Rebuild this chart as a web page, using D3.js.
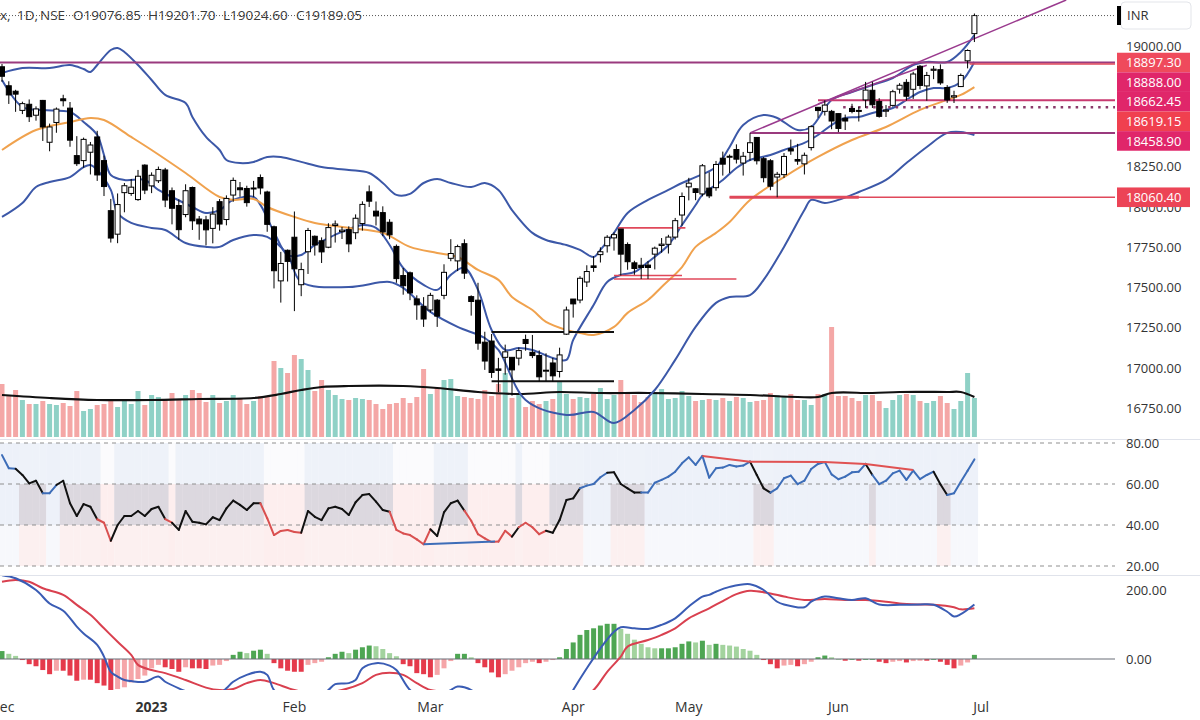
<!DOCTYPE html>
<html><head><meta charset="utf-8">
<script src="https://cdn.jsdelivr.net/npm/d3@7"></script>
<style>body{margin:0;background:#fff}svg{display:block}</style>
</head><body><svg id="c" width="1200" height="720"></svg>
<script>
// ---------- DATA ----------
const open = [18871,18753,18719,18600,18638,18570,18662,18402,18525,18672,
18614,18319,18288,18340,18435,18288,17977,17831,18089,18084,
18046,18260,18131,18163,18230,18101,18009,17953,18121,17925,
17920,17867,18033,17922,18074,18119,18115,18118,18183,18093,
17877,17541,17731,17812,17517,17722,17818,17790,17750,17885,
17847,17859,17840,17897,18094,17974,17965,17905,17755,17574,
17591,17429,17383,17360,17421,17451,17681,17665,17772,17443,
17421,17160,17167,16994,17066,17066,17061,17177,17097,17077,
16984,17031,16978,17210,17428,17422,17534,17634,17704,17759,
17808,17863,17767,17653,17638,17639,17707,17761,17768,17813,
17950,18125,18113,18081,18117,18120,18303,18313,18357,18273,
18339,18432,18300,18287,18186,18201,18362,18295,18268,18369,
18619.15,18594,18594,18580,18551,18612,18600,18665,18725,18655,
18595,18631,18732,18774,18731,18874,18752,18849,18853,18742,
18683,18748,18908,19076.85];
const high = [18888,18781,18728,18654,18668,18625,18665,18518,18618,18697,
18652,18440,18431,18404,18473,18319,18050,18084,18149,18174,
18230,18265,18215,18251,18243,18121,18047,18141,18127,17944,
17945,17999,18049,18072,18183,18155,18132,18162,18202,18101,
17884,17721,17736,17972,17654,17870,17823,17811,17899,17916,
17876,17880,17954,18035,18134,18034,18004,17924,17767,17621,
17599,17451,17440,17467,17428,17644,17800,17766,17799,17451,
17529,17225,17211,17063,17145,17066,17127,17207,17205,17109,
17091,17062,17126,17381,17428,17570,17638,17694,17749,17825,
17842,17863,17780,17666,17684,17664,17754,17807,17827,17932,
18090,18181,18117,18267,18216,18286,18344,18326,18389,18342,
18458.9,18432,18310,18297,18218,18335,18419,18392,18338,18508,
18620,18662.45,18603,18581,18574,18641,18622,18777,18778,18676,
18633,18728,18769,18794,18840,18882,18839,18876,18886,18757,
18722,18829,18979,19201.7];
const low = [18778,18640,18591,18577,18528,18536,18410,18346,18461,18625,
18374,18255,18244,18202,18162,18068,17779,17775,17967,18069,
18038,18080,18086,18149,17999,17892,17796,17936,17857,17796,
17761,17774,17853,17886,18032,18063,18002,18063,18078,17846,
17494,17406,17537,17353,17446,17584,17698,17652,17744,17779,
17801,17719,17800,17853,18000,17885,17819,17800,17529,17455,
17421,17299,17255,17345,17255,17427,17663,17602,17553,17325,
17113,16988,16938,16850,16958,16828,17016,17107,17061,16917,
16919,16914,16941,17205,17313,17402,17503,17597,17655,17717,
17729,17574,17610,17579,17553,17553,17612,17716,17711,17798,
17884,18041,18042,18066,18055,18101,18195,18211,18270,18195,
18287,18264,18153,18104,18060.4,18180,18324,18262,18202,18351,
18554,18568,18483,18465,18478,18582,18531,18615,18615,18555,
18559,18623,18704,18660,18671,18731,18660,18794,18759,18647,
18646,18745,18861,19024.6];
const close = [18812,18696,18701,18642,18561,18609,18497,18497,18608,18660,
18415,18269,18420,18385,18199,18127,17807,18015,18132,18123,
18191,18105,18197,18233,18043,17992,17859,18101,17914,17895,
17858,17956,17894,18053,18165,18107,18027,18118,18118,17892,
17604,17649,17662,17616,17611,17854,17764,17721,17872,17894,
17856,17771,17930,18016,18036,17944,17845,17827,17555,17511,
17466,17392,17304,17451,17322,17594,17711,17754,17589,17413,
17154,17043,16972,16985,17100,16988,17108,17152,17077,16945,
16986,16951,17081,17360,17398,17557,17599,17624,17722,17812,
17828,17707,17660,17618,17624,17624,17744,17769,17813,17915,
18065,18148,18090,18256,18069,18264,18266,18315,18297,18315,
18399,18287,18182,18129,18203,18314,18348,18285,18321,18499,
18599,18633,18534,18488,18534,18593,18599,18726,18635,18563,
18602,18716,18756,18688,18826,18755,18817,18856,18771,18665,
18691,18817,18972,19189.05];
// volume, tens of millions of shares
const volume = [53,42,47,37,33,33,36,33,32,34,31,46,26,28,32,33,37,30,36,33,
46,32,42,40,38,44,38,42,47,44,35,42,34,36,42,38,33,
36,41,40,76,69,64,82,78,67,46,57,47,42,38,37,39,38,37,33,28,
33,34,39,34,40,68,43,49,57,58,41,40,39,38,47,41,53,64,39,43,
30,36,33,36,38,55,43,38,40,39,43,49,38,42,57,44,42,35,40,45,
48,38,39,46,41,36,37,38,37,39,36,40,39,35,36,37,44,42,41,43,
37,37,32,43,43,110,41,41,39,36,42,42,36,29,37,42,43,42,36,34,
36,41,34,28,36,64,39];
const volumeMA = [[0,42],[7,39],[14,37],[22,37],[29,38],[37,39],[41,43],[44,47],[47,50],[51,51],[59,51],[64,49],[70,45],[76,43],[82,45],[88,44],[95,44],[103,43],[110,42],[117,40],[120,40],[122,44],[128,44],[132,45],[139,45],[141,45],[143,40]];
// overlays [dayIndex, price]
const bbUpper = [[0,18832],[3,18863],[7,18863],[10,18882],[12,18857],[13,18839],[14,18882],[16,18975],[17,18988],[18,18963],[20,18882],[22,18789],[24,18696],[27,18646],[28,18559],[30,18435],[32,18354],[33,18292],[35,18273],[37,18280],[39,18311],[41,18311],[44,18280],[47,18248],[51,18230],[54,18211],[56,18149],[58,18075],[60,18081],[62,18149],[64,18174],[66,18149],[69,18124],[71,18149],[73,18106],[75,17981],[78,17839],[80,17795],[83,17764],[85,17733],[87,17689],[88,17733],[90,17839],[92,17963],[95,18044],[98,18106],[100,18149],[102,18186],[105,18248],[107,18373],[109,18509],[112,18571],[114,18553],[117,18478],[119,18497],[122,18665],[125,18714],[128,18758],[131,18801],[134,18882],[136,18901],[139,18901],[141,18963],[143,19068]];
const bbLower = [[0,17938],[3,18025],[5,18124],[7,18155],[10,18186],[12,18248],[13,18261],[14,18230],[16,18106],[17,17963],[19,17901],[22,17870],[24,17857],[27,17776],[30,17752],[32,17752],[34,17795],[37,17826],[39,17814],[42,17702],[44,17534],[51,17503],[57,17534],[59,17497],[63,17348],[67,17255],[71,17186],[73,17112],[77,16801],[83,16708],[87,16727],[90,16658],[93,16739],[96,16863],[99,17050],[102,17255],[105,17404],[107,17441],[110,17453],[112,17547],[115,17752],[118,17981],[119,18044],[121,18025],[123,18044],[126,18093],[130,18168],[133,18273],[136,18373],[139,18460],[141,18466],[143,18447]];
const fastMA = [[0,18789],[3,18621],[6,18602],[10,18590],[12,18528],[14,18447],[15,18323],[16,18199],[18,18168],[21,18168],[23,18106],[25,18062],[28,18000],[30,17963],[32,17981],[34,18044],[37,18062],[38,18013],[40,17845],[42,17702],[44,17702],[46,17764],[48,17807],[50,17845],[53,17888],[55,17870],[57,17764],[59,17621],[62,17516],[64,17485],[66,17578],[68,17621],[70,17485],[72,17236],[74,17112],[76,17124],[78,17112],[81,17062],[83,17050],[84,17174],[87,17391],[89,17534],[91,17578],[93,17596],[95,17658],[98,17764],[100,17888],[102,18012],[103,18075],[106,18168],[108,18242],[110,18292],[113,18323],[115,18354],[118,18398],[120,18447],[122,18509],[124,18553],[126,18559],[128,18584],[131,18615],[133,18665],[135,18714],[137,18739],[139,18739],[141,18776],[143,18901]];
const ema = [[0,18354],[5,18478],[10,18528],[13,18553],[15,18540],[19,18435],[22,18354],[27,18211],[32,18062],[34,18044],[37,18050],[39,18000],[43,17938],[46,17901],[51,17870],[56,17839],[60,17752],[64,17714],[67,17689],[70,17609],[73,17547],[75,17441],[78,17360],[80,17286],[83,17236],[85,17217],[87,17205],[90,17255],[92,17342],[95,17422],[97,17503],[100,17627],[102,17752],[105,17839],[107,17907],[110,18044],[115,18186],[120,18311],[125,18416],[130,18497],[135,18603],[139,18665],[141,18696],[143,18745]];
// horizontal levels: price, from day, to day
const levelPrice = [18897.3, 18888, 18662.45, 18619.15, 18458.9, 18060.4, 18060.4, 17870, 17574, 17553, 17224, 16917];
const levelFrom  = [-2, 142.3, 120, 123.7, 110, 107, 107, 90.6, 90, 90, 72, 72];
const levelTo    = [164, 164, 164, 164, 164, 164, 126, 100.5, 100, 108, 90, 90];
const levelKind  = ["purple","red","magenta","dotted","purple","red","redThick","red","red","red","black","black"];
const trendA = [[110,18460],[156.5,19286]];
const trendB = [[120,18640],[136,18880]];
// labels on price axis
const tagPrice = [18897.30, 18888.00, 18662.45, 18619.15, 18458.90, 18060.40];
const tagColor = ["#ef4a5c","#e0266a","#e0266a","#f0404f","#e0266a","#ec4456"];
const priceTicks = [16750,17000,17250,17500,17750,18000,18250,19000];
// RSI
const rsi = [74.1,67.7,67.4,64.4,60.3,61.6,55.5,55.5,59.5,61.6,
50.6,44.4,50.2,48.9,42.8,41.1,32.3,40.0,44.4,44.4,
46.8,44.4,47.8,48.9,42.9,41.1,37.6,46.8,41.6,41.1,
40.3,43.8,42.4,48.1,51.9,49.8,47.3,50.6,50.6,43.3,
35.1,37.1,37.6,36.6,36.2,46.8,44.0,42.4,48.1,48.9,
47.8,44.9,51.1,54.6,55.1,51.4,47.3,46.5,37.6,35.9,
35.1,33.0,30.6,37.9,34.6,46.2,50.6,51.9,47.0,42.1,
35.5,33.5,31.7,31.9,37.2,34.3,38.9,41.1,38.9,35.5,
37.2,36.2,42.4,52.2,53.0,57.9,59.2,60.0,63.3,65.5,
65.7,60.0,57.9,55.8,55.8,55.8,60.6,62.0,63.6,66.0,
70.1,73.0,69.3,73.7,63.1,67.7,68.0,69.3,68.5,69.0,
70.9,64.4,57.9,55.8,57.9,62.8,64.1,59.9,61.6,67.3,
69.8,70.7,64.7,62.3,63.6,65.7,66.0,69.8,64.4,59.9,
61.6,65.2,66.5,62.0,66.5,62.4,64.4,66.0,59.9,54.6,
55.5,61.1,66.5,72.0];
const rsiState = ("bbb"+"nnnn"+"bb"+"nnnnnn"+"rr"+"nnnnnnnn"+"r"+"nnnnnnnnnnnnn"+"rrrrrr"+"nnnnnnnnnnnnn"+"rrrrrr"+"nnnnn"+"rrrrrrr"+"n"+"rrrr"+"nnnnn"+"bbbb"+"nnnnn"+"bbbbbbbbbbbbbbbb"+"nnn"+"bbbbbbbbbbbbbb"+"n"+"bbbbbbbbb"+"nn"+"bbbb").split("");
const rsiBearDiv = [[103,73.7],[110,70.9],[121,70.7],[127,69.8],[134,66.8]];
const rsiBullDiv = [[62,30.6],[72.5,31.9]];
const rsiTicks = [80,60,40,20];
// MACD
const macdLine = [[0,243],[2,234],[5,200],[7,161],[9,140],[11,94],[12,74],[14,41],[15,7],[16,-37],[17,-51],[18,-61],[19,-64],[21,-66],[23,-51],[24,-66],[26,-85],[28,-100],[30,-108],[32,-100],[33,-85],[34,-66],[36,-46],[38,-37],[39,-46],[40,-90],[42,-120],[44,-135],[46,-125],[48,-90],[49,-73],[51,-70],[52,-61],[53,-27],[55,-12],[57,-19],[58,-32],[60,-90],[62,-115],[64,-110],[66,-90],[67,-80],[69,-90],[71,-130],[74,-175],[77,-200],[80,-195],[82,-160],[84,-90],[86,-27],[88,31],[90,79],[91,92],[93,89],[95,87],[97,99],[99,118],[101,152],[103,181],[104,186],[105,195],[107,209],[110,217],[112,200],[114,166],[115,158],[118,150],[119,166],[121,181],[123,176],[125,171],[127,176],[129,158],[132,157],[135,158],[137,157],[139,137],[140,123],[141,130],[143,158]];
const signalLine = [[0,224],[2,229],[4,224],[6,205],[9,186],[11,157],[13,128],[15,89],[17,50],[19,12],[20,-17],[22,-32],[24,-41],[27,-61],[30,-83],[32,-90],[34,-87],[36,-70],[38,-61],[40,-70],[43,-90],[46,-100],[50,-90],[53,-70],[55,-46],[57,-40],[59,-46],[61,-70],[63,-90],[66,-95],[70,-105],[75,-130],[80,-150],[84,-130],[87,-90],[89,-37],[91,7],[92,36],[95,55],[97,70],[99,89],[101,118],[104,147],[106,168],[108,188],[110,198],[113,190],[115,181],[118,171],[121,174],[124,171],[127,171],[130,166],[132,161],[135,158],[137,157],[140,150],[141,144],[143,147]];
const hist = [23,15,9,-3,-15,-21,-32,-44,-34,-34,-48,-63,-60,-60,-70,-77,-92,-87,-82,-68,
-58,-48,-27,-17,-24,-29,-37,-24,-27,-27,-29,-19,-17,-6,12,21,17,24,27,15,
-12,-27,-34,-37,-37,-17,-12,-8,5,15,21,17,27,34,39,37,29,17,8,-15,
-21,-41,-44,-53,-46,-27,-6,15,15,5,-12,-24,-39,-53,-44,-34,-24,-12,-8,-12,
-8,-3,5,29,48,70,84,89,97,102,102,87,73,56,44,34,31,31,31,34,
44,51,48,53,41,44,41,39,36,29,24,12,-3,-15,-27,-19,-17,-21,-15,-8,
5,10,5,0,-5,0,-5,0,0,-8,-12,-8,-6,-10,-6,-5,-5,0,-8,-17,
-27,-19,-10,12];
const macdTicks = [0,200];
const monthIdx = [0,22,43,63,84,101,123,144];
const monthLabel = ["Dec","2023","Feb","Mar","Apr","May","Jun","Jul"];
const header = ["x,","1D,","NSE","O19076.85","H19201.70","L19024.60","C19189.05"];

// ---------- CHART ----------
const svg = d3.select("#c");
const FONT = "'Open Sans', 'DejaVu Sans', sans-serif";
const N = close.length;
const RIGHT = 1115;
const x = d3.scaleLinear().domain([0, N - 1]).range([2, 974.4]);
const y = d3.scaleLinear().domain([16750, 19000]).range([408.2, 46]);
const yVol = d3.scaleLinear().domain([0, 167]).range([437, 270]);
const yR = d3.scaleLinear().domain([20, 80]).range([566, 443]);
const yM = d3.scaleLinear().domain([0, 200]).range([659, 590]);
const dx = x(1) - x(0);

const defs = svg.append("defs");
function clip(id, yy, h) { defs.append("clipPath").attr("id", id).append("rect").attr("x", 0).attr("y", yy).attr("width", RIGHT).attr("height", h); }
clip("cp", 0, 438); clip("cr", 441, 134); clip("cm", 576, 114);

svg.append("rect").attr("width", 1200).attr("height", 720).attr("fill", "#fff");

// ---- price pane ----
const gp = svg.append("g").attr("clip-path", "url(#cp)");
gp.selectAll("rect.vol").data(volume).join("rect")
  .attr("x", (d, i) => x(i) - 2.5).attr("width", 5)
  .attr("y", d => yVol(d)).attr("height", d => yVol(0) - yVol(d))
  .attr("fill", (d, i) => close[i] >= open[i] ? "#8fd1c6" : "#f4a7a6");
gp.append("path").datum(volumeMA)
  .attr("d", d3.line().x(d => x(d[0])).y(d => yVol(d[1])).curve(d3.curveCatmullRom.alpha(0.5)))
  .attr("fill", "none").attr("stroke", "#111").attr("stroke-width", 2.2);

const lineP = d3.line().x(d => x(d[0])).y(d => y(d[1])).curve(d3.curveCatmullRom.alpha(0.5));
[[bbUpper, "#3c58a8"], [bbLower, "#3c58a8"], [fastMA, "#3c58a8"], [ema, "#f0a24e"]].forEach(([data, c]) => {
  gp.append("path").datum(data).attr("d", lineP).attr("fill", "none").attr("stroke", c).attr("stroke-width", 2);
});

const levelStyle = {
  purple: {c: "#9a3a7e", w: 2}, red: {c: "#e0485a", w: 1.6}, redThick: {c: "#e0485a", w: 3},
  magenta: {c: "#c83a70", w: 2}, dotted: {c: "#8a3a6a", w: 2.5, dash: "2.5,5"}, black: {c: "#111", w: 2}
};
levelPrice.forEach((p, i) => {
  const s = levelStyle[levelKind[i]];
  gp.append("line").attr("x1", x(levelFrom[i])).attr("x2", Math.min(x(levelTo[i]), RIGHT))
    .attr("y1", y(p)).attr("y2", y(p)).attr("stroke", s.c).attr("stroke-width", s.w)
    .attr("stroke-dasharray", s.dash || null);
});
[trendA, trendB].forEach(t => {
  gp.append("path").datum(t).attr("d", d3.line().x(d => x(d[0])).y(d => y(d[1])))
    .attr("stroke", "#9a3a8e").attr("stroke-width", 1.5).attr("fill", "none");
});
// last price dotted line
svg.append("line").attr("x1", 0).attr("x2", RIGHT).attr("y1", y(close[N - 1])).attr("y2", y(close[N - 1]))
  .attr("stroke", "#555").attr("stroke-width", 1).attr("stroke-dasharray", "1,2");

// candles
const cg = gp.append("g");
const idx = d3.range(N);
cg.selectAll("line.w").data(idx).join("line")
  .attr("x1", i => x(i)).attr("x2", i => x(i)).attr("y1", i => y(high[i])).attr("y2", i => y(low[i]))
  .attr("stroke", "#000").attr("stroke-width", 1);
cg.selectAll("rect.b").data(idx).join("rect")
  .attr("x", i => x(i) - 2.5).attr("width", 5)
  .attr("y", i => y(Math.max(open[i], close[i])))
  .attr("height", i => Math.max(1, Math.abs(y(open[i]) - y(close[i]))))
  .attr("fill", i => close[i] >= open[i] ? "#fff" : "#000")
  .attr("stroke", "#000").attr("stroke-width", 1);

// header
const headerX = [0, 17, 40, 73, 148, 223, 296];
header.forEach((t, i) => svg.append("text").attr("x", headerX[i]).attr("y", 20).text(t)
  .attr("font-family", FONT).attr("font-size", 13.5).attr("fill", "#3a3a3a"));

// price axis
const axisG = svg.append("g").attr("transform", "translate(1118,0)")
  .call(d3.axisRight(y).tickValues(priceTicks).tickFormat(d3.format(".2f")).tickSize(0).tickPadding(8));
axisG.select(".domain").remove();
axisG.selectAll("text").attr("font-family", FONT).attr("font-size", 13).attr("fill", "#333");

// tags with collision avoidance
let lastY = -100;
tagPrice.forEach((p, i) => {
  let cy = Math.max(y(p), lastY + 19.6);
  lastY = cy;
  svg.append("rect").attr("x", 1117).attr("y", cy - 9.8).attr("width", 73).attr("height", 19.6).attr("fill", tagColor[i]);
  svg.append("text").attr("x", 1126).attr("y", cy + 4.6).text(d3.format(".2f")(p))
    .attr("font-family", FONT).attr("font-size", 13).attr("fill", "#fff");
});
// INR box
svg.append("rect").attr("x", 1121).attr("y", 2).attr("width", 70).attr("height", 27).attr("rx", 4)
  .attr("fill", "#fff").attr("stroke", "#e3e5ea");
svg.append("rect").attr("x", 1117).attr("y", 6).attr("width", 4).attr("height", 19).attr("fill", "#000");
svg.append("text").attr("x", 1127).attr("y", 20).text("INR").attr("font-family", FONT).attr("font-size", 13).attr("fill", "#333");

// pane separators
[439.5, 575.5].forEach(v => svg.append("line").attr("x1", 0).attr("x2", 1200).attr("y1", v).attr("y2", v)
  .attr("stroke", "#e0e3eb").attr("stroke-width", 1));

// ---- RSI pane ----
const gr = svg.append("g").attr("clip-path", "url(#cr)");
const bgCol = {
  b: [[80, 40, "#edf1f9"], [40, 20, "#f7f8fc"]],
  n: [[80, 60, "#eef2f9"], [60, 40, "#dcd8df"], [40, 20, "#fcf0f0"]],
  r: [[80, 60, "#fbfbfd"], [60, 20, "#fdeeee"]]
};
rsiState.forEach((s, i) => {
  bgCol[s].forEach(([a, b, c]) => gr.append("rect").attr("x", x(i) - dx / 2).attr("width", dx + 0.3)
    .attr("y", yR(a)).attr("height", yR(b) - yR(a)).attr("fill", c));
});
rsiTicks.forEach(t => gr.append("line").attr("x1", 0).attr("x2", RIGHT).attr("y1", yR(t)).attr("y2", yR(t))
  .attr("stroke", "#8f8f8f").attr("stroke-width", 1).attr("stroke-dasharray", "4,4"));
const sc = {b: "#3d6db8", n: "#111", r: "#d95050"};
for (let i = 1; i < N; i++) {
  gr.append("line").attr("x1", x(i - 1)).attr("y1", yR(rsi[i - 1])).attr("x2", x(i)).attr("y2", yR(rsi[i]))
    .attr("stroke", sc[rsiState[i]]).attr("stroke-width", 2).attr("stroke-linecap", "round");
}
const lineR = d3.line().x(d => x(d[0])).y(d => yR(d[1]));
gr.append("path").datum(rsiBearDiv).attr("d", lineR).attr("fill", "none").attr("stroke", "#e05252").attr("stroke-width", 2);
gr.append("path").datum(rsiBullDiv).attr("d", lineR).attr("fill", "none").attr("stroke", "#3d6db8").attr("stroke-width", 2);
rsiTicks.forEach(t => svg.append("text").attr("x", 1126).attr("y", yR(t) + 4.5).text(d3.format(".2f")(t))
  .attr("font-family", FONT).attr("font-size", 13).attr("fill", "#333"));

// ---- MACD pane ----
const gm = svg.append("g").attr("clip-path", "url(#cm)");
gm.selectAll("rect.h").data(hist).join("rect")
  .attr("x", (d, i) => x(i) - 2.5).attr("width", 5)
  .attr("y", d => d >= 0 ? yM(d) : yM(0))
  .attr("height", d => Math.max(0.8, Math.abs(yM(d) - yM(0))))
  .attr("fill", (d, i) => {
    const p = i > 0 ? hist[i - 1] : 0;
    if (d >= 0) return d >= p ? "#4ea653" : "#a3d39e";
    return d <= p ? "#e53a4b" : "#f5a5a8";
  });
gm.append("line").attr("x1", 0).attr("x2", RIGHT).attr("y1", yM(0)).attr("y2", yM(0)).attr("stroke", "#6b6e78").attr("stroke-width", 1.2);
const lineM = d3.line().x(d => x(d[0])).y(d => yM(d[1])).curve(d3.curveCatmullRom.alpha(0.5));
gm.append("path").datum(signalLine).attr("d", lineM).attr("fill", "none").attr("stroke", "#d9404f").attr("stroke-width", 2);
gm.append("path").datum(macdLine).attr("d", lineM).attr("fill", "none").attr("stroke", "#3a5cb4").attr("stroke-width", 2);
macdTicks.forEach(t => svg.append("text").attr("x", 1126).attr("y", yM(t) + 4.5).text(d3.format(".2f")(t))
  .attr("font-family", FONT).attr("font-size", 13).attr("fill", "#333"));

// ---- time axis ----
monthIdx.forEach((m, i) => svg.append("text").attr("x", x(m)).attr("y", 712).attr("text-anchor", "middle")
  .text(monthLabel[i]).attr("font-family", FONT).attr("font-size", 14)
  .attr("font-weight", monthLabel[i] === "2023" ? "bold" : "normal").attr("fill", "#333"));
</script></body></html>
